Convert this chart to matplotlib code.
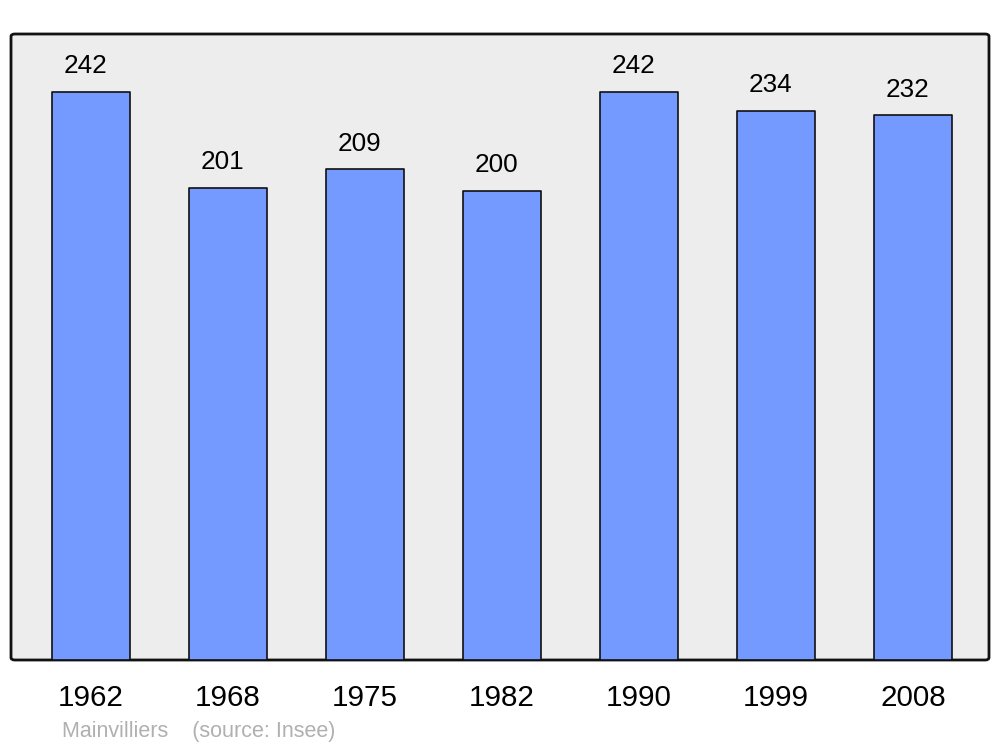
import matplotlib.pyplot as plt
from matplotlib.patches import FancyBboxPatch

years = ["1962", "1968", "1975", "1982", "1990", "1999", "2008"]
population = [242, 201, 209, 200, 242, 234, 232]

plt.rcParams['font.family'] = ['Liberation Sans', 'DejaVu Sans']

fig = plt.figure(figsize=(10, 7.47), dpi=100)
ax = fig.add_axes([0.011, 87 / 747, 0.978, 626 / 747])
ax.set_facecolor('none')

# rounded background frame
frame = FancyBboxPatch((0, 0), 1, 1, boxstyle="round,pad=0,rounding_size=0.004",
                       transform=ax.transAxes, facecolor='#ededed', edgecolor='#111111',
                       linewidth=2, zorder=0, clip_on=False)
ax.add_patch(frame)

x = list(range(len(years)))
bars = ax.bar(x, population, width=0.575, color='#7499ff', edgecolor='#111111',
              linewidth=1.2, zorder=2)
for b in bars:
    b.set_joinstyle('round')

for xi, v in zip(x, population):
    ax.annotate(str(v), xy=(xi, v), xytext=(-4, 13.5), textcoords='offset points',
                ha='center', va='baseline', fontsize=18.8, color='black')

ax.set_xlim(-0.584, 6.555)
ax.set_ylim(0, 266.7)
ax.set_xticks(x)
ax.set_xticklabels(years, fontsize=21.3)
ax.tick_params(axis='x', length=0, pad=17)
ax.set_yticks([])
for s in ax.spines.values():
    s.set_visible(False)

fig.text(0.062, 10 / 747, "Mainvilliers    (source: Insee)", fontsize=15.5,
         color='#b0b0b0', ha='left', va='baseline')

fig.savefig('out.png', dpi=100)
